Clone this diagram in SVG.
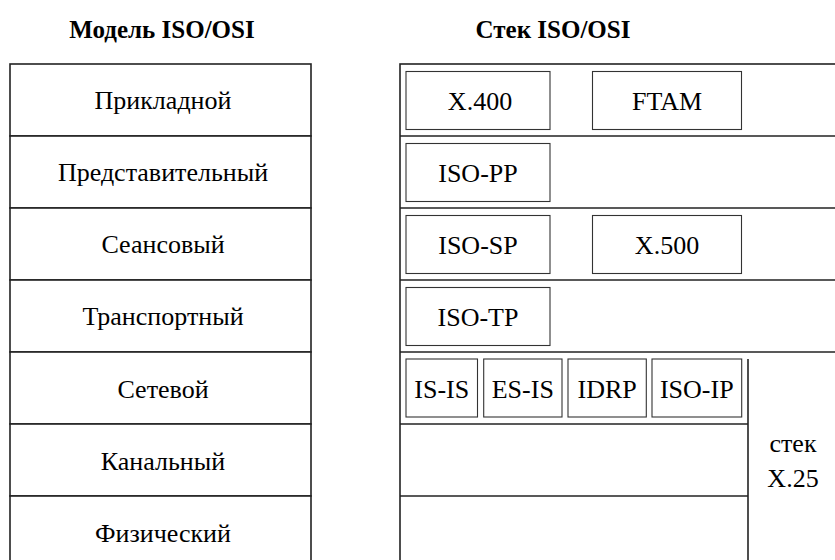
<svg xmlns="http://www.w3.org/2000/svg" width="835" height="560" viewBox="0 0 835 560">
<style>
.t{font-family:'Liberation Serif','Times New Roman',serif;font-size:26px;fill:#000;text-anchor:middle}
.h{font-family:'Liberation Serif','Times New Roman',serif;font-size:25px;font-weight:bold;fill:#000;text-anchor:middle}
.o{fill:#fff;stroke:#222;stroke-width:1.6}
.b{fill:#fff;stroke:#333;stroke-width:1.1}
.l{stroke:#222;stroke-width:1.6;fill:none}
</style>
<rect width="835" height="560" fill="#fff"/>
<text class="h" x="162" y="38">Модель ISO/OSI</text>
<text class="h" x="553" y="38">Стек ISO/OSI</text>
<g id="osi-model">
<g id="m1"><rect class="o" x="10" y="64" width="301" height="72"/><text class="t" x="163" y="109">Прикладной</text></g>
<g id="m2"><rect class="o" x="10" y="136" width="301" height="72"/><text class="t" x="163" y="181">Представительный</text></g>
<g id="m3"><rect class="o" x="10" y="208" width="301" height="72"/><text class="t" x="163" y="253">Сеансовый</text></g>
<g id="m4"><rect class="o" x="10" y="280" width="301" height="72"/><text class="t" x="163" y="325">Транспортный</text></g>
<g id="m5"><rect class="o" x="10" y="352" width="301" height="72"/><text class="t" x="163" y="397.5">Сетевой</text></g>
<g id="m6"><rect class="o" x="10" y="424" width="301" height="72"/><text class="t" x="163" y="469.5">Канальный</text></g>
<g id="m7"><rect class="o" x="10" y="496" width="301" height="72"/><text class="t" x="163" y="541.5">Физический</text></g>
</g>
<g id="stack-frame">
<rect class="o" x="400" y="64" width="460" height="510"/>
<line class="l" x1="400" y1="136" x2="840" y2="136"/>
<line class="l" x1="400" y1="208" x2="840" y2="208"/>
<line class="l" x1="400" y1="280" x2="840" y2="280"/>
<line class="l" x1="400" y1="352" x2="840" y2="352"/>
<line class="l" x1="400" y1="424" x2="748" y2="424"/>
<line class="l" x1="400" y1="496" x2="748" y2="496"/>
</g>
<g id="x400"><rect class="b" x="406" y="71.5" width="144" height="58"/><text class="t" x="480" y="110">X.400</text></g>
<g id="ftam"><rect class="b" x="592.5" y="71.5" width="149" height="58"/><text class="t" x="667" y="110">FTAM</text></g>
<g id="isopp"><rect class="b" x="406" y="143.5" width="144" height="58"/><text class="t" x="478" y="182">ISO-PP</text></g>
<g id="isosp"><rect class="b" x="406" y="215.5" width="144" height="58"/><text class="t" x="478" y="254">ISO-SP</text></g>
<g id="x500"><rect class="b" x="592.5" y="215.5" width="149" height="58"/><text class="t" x="667" y="254">X.500</text></g>
<g id="isotp"><rect class="b" x="406" y="287.5" width="144" height="58"/><text class="t" x="478" y="326">ISO-TP</text></g>
<g id="isis"><rect class="b" x="406" y="359" width="71.5" height="58"/><text class="t" x="441.8" y="397.5">IS-IS</text></g>
<g id="esis"><rect class="b" x="483.7" y="359" width="78.3" height="58"/><text class="t" x="522.8" y="397.5">ES-IS</text></g>
<g id="idrp"><rect class="b" x="568" y="359" width="78.3" height="58"/><text class="t" x="607.2" y="397.5">IDRP</text></g>
<g id="isoip"><rect class="b" x="652" y="359" width="89.7" height="58"/><text class="t" x="696.8" y="397.5">ISO-IP</text></g>
<g id="x25"><line class="l" x1="748" y1="359" x2="748" y2="570"/><text class="t" x="793" y="451.5">стек</text><text class="t" x="793" y="486.5">X.25</text></g>
</svg>
